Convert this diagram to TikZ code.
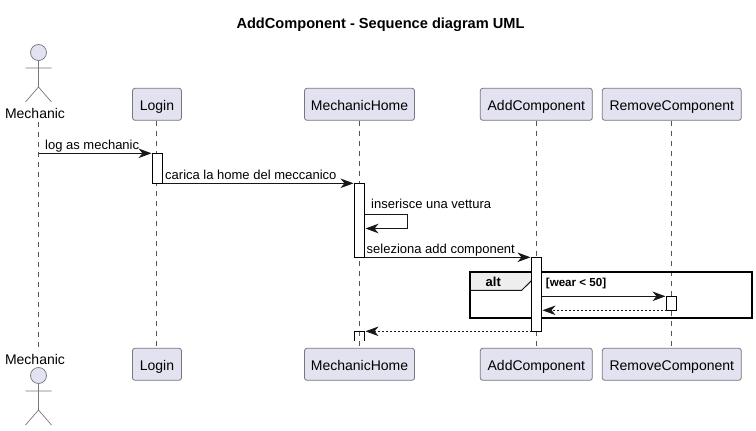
\documentclass[tikz,border=0pt]{standalone}
\usepackage{fontspec}
\setmainfont{Liberation Sans}
\usetikzlibrary{arrows.meta}
\definecolor{partfill}{HTML}{E2E2F0}
\definecolor{partline}{HTML}{77777F}
\definecolor{lifeline}{HTML}{555555}
\definecolor{ink}{HTML}{181818}
\definecolor{tabfill}{HTML}{EEEEEE}
\tikzset{
  x=1pt,y=-1pt,
  partbox/.style={draw=partline,fill=partfill,line width=0.8pt,rounded corners=2.5pt,minimum height=32pt,inner sep=0pt,outer sep=0pt,text height=13pt,text depth=0.2pt,font=\fontsize{14}{16}\selectfont,text=black},
  actorname/.style={anchor=base,inner sep=0pt,font=\fontsize{14}{16}\selectfont,text=black},
  lifeln/.style={draw=lifeline,line width=0.6pt,dash pattern=on 5pt off 5pt},
  actorln/.style={draw=partline,line width=0.7pt},
  activation/.style={draw=black,fill=white,line width=0.9pt,minimum width=10pt,inner sep=0pt,outer sep=0pt},
  msg/.style={draw=ink,line width=0.9pt,-{Stealth[length=13pt,width=9.5pt,inset=4pt]}},
  ret/.style={draw=ink,line width=0.7pt,dash pattern=on 2pt off 2pt,-{Stealth[length=13pt,width=9.5pt,inset=4pt]}},
  msglabel/.style={anchor=base west,inner sep=0pt,font=\fontsize{13}{15}\selectfont,text=black},
}
\begin{document}
\begin{tikzpicture}
\useasboundingbox (0,0) rectangle (756,431);
\fill[white] (0,0) rectangle (756,431);
\node[inner sep=0pt,font=\bfseries\fontsize{14.6}{17}\selectfont] (title) at (380.5,25) {AddComponent - Sequence diagram UML};
% participants
\node[partbox,minimum width=49pt] (loginT) at (157,104.3) {Login};
\node[partbox,minimum width=110pt] (homeT) at (359.5,104.3) {MechanicHome};
\node[partbox,minimum width=112pt] (addT) at (536.3,104.3) {AddComponent};
\node[partbox,minimum width=139pt] (remT) at (671.8,104.3) {RemoveComponent};
\node[partbox,minimum width=49pt] (loginB) at (157,364.3) {Login};
\node[partbox,minimum width=110pt] (homeB) at (359.5,364.3) {MechanicHome};
\node[partbox,minimum width=112pt] (addB) at (536.3,364.3) {AddComponent};
\node[partbox,minimum width=139pt] (remB) at (671.8,364.3) {RemoveComponent};
\node[actorname] (mechT) at (35,118) {Mechanic};
\node[actorname] (mechB) at (35,364) {Mechanic};
% actors
\draw[actorln,fill=partfill] (38.5,52.5) circle (8);
\draw[actorln] (38.5,60.5) -- (38.5,87) (25.5,68) -- (51.5,68) (25.5,102) -- (38.5,87) -- (51.5,102);
\draw[actorln,fill=partfill] (38.5,375.5) circle (8);
\draw[actorln] (38.5,383.5) -- (38.5,410) (25.5,391) -- (51.5,391) (25.5,425) -- (38.5,410) -- (51.5,425);
% lifeline anchors
\coordinate (mechLtop) at (38.5,122);
\coordinate (mechLbot) at (38.5,347);
\coordinate (loginLtop) at (156,121);
\coordinate (loginLbot) at (156,347);
\coordinate (homeLtop) at (359.5,121);
\coordinate (homeLbot) at (359.5,347);
\coordinate (addLtop) at (536.3,121);
\coordinate (addLbot) at (536.3,347);
\coordinate (remLtop) at (671.3,121);
\coordinate (remLbot) at (671.3,347);
\draw[lifeln] (mechLtop) -- (mechLbot);
\draw[lifeln] (loginLtop) -- (loginLbot);
\draw[lifeln] (homeLtop) -- (homeLbot);
\draw[lifeln] (addLtop) -- (addLbot);
\draw[lifeln] (remLtop) -- (remLbot);
% alt frame
\coordinate (frameA) at (470.3,272.3);
\coordinate (frameB) at (752,318.3);
\fill[tabfill] (470.3,272.3) -- (531.7,272.3) -- (531.7,280.4) -- (521.7,290.3) -- (470.3,290.3) -- cycle;
\draw[ink,line width=1pt] (531.7,280.4) -- (521.7,290.3) -- (470.3,290.3);
\draw[black,line width=1.8pt] (frameA) rectangle (frameB);
\node[anchor=base,inner sep=0pt,font=\bfseries\fontsize{13}{15}\selectfont] (altlabel) at (493.3,286.7) {alt};
\node[anchor=base west,inner sep=0pt,font=\bfseries\fontsize{11.6}{13}\selectfont] (guard) at (545.7,286.2) {[wear < 50]};
% activations
\node[activation,minimum height=30pt] (a1) at (157.5,168.3) {};
\node[activation,minimum height=74pt] (a2) at (359.5,220.3) {};
\node[activation,minimum height=74pt] (a3) at (536.5,294.3) {};
\node[activation,minimum height=14pt] (a4) at (671.5,303.3) {};
\coordinate (a5tl) at (354.5,341);
\coordinate (a5top) at (354.5,331.3);
\coordinate (a5tr) at (364.5,331.3);
\coordinate (a5br) at (364.5,341);
\draw[draw=black,line width=0.9pt] (a5tl) -- (a5top) -- (a5tr) -- (a5br);
% messages
\coordinate (m1a) at (38.5,153.3);
\coordinate (m1b) at (151.5,153.3);
\draw[msg] (m1a) -- (m1b);
\node[msglabel] (l1) at (45,149) {log as mechanic};
\coordinate (m2b) at (353.5,183.3);
\draw[msg] (a1.south east) -- (m2b);
\node[msglabel] (l2) at (165,179) {carica la home del meccanico};
\coordinate (m3a) at (364.5,214);
\coordinate (m3c) at (407,214);
\coordinate (m3d) at (407,228.5);
\coordinate (m3b) at (365.5,228.5);
\draw[msg] (m3a) -- (m3c) -- (m3d) -- (m3b);
\node[msglabel] (l3) at (371,208) {inserisce una vettura};
\coordinate (m4b) at (530.5,257.3);
\draw[msg] (a2.south east) -- (m4b);
\node[msglabel] (l4) at (366.5,253) {seleziona add component};
\coordinate (m5a) at (541.5,296.3);
\coordinate (m5b) at (665.5,296.3);
\draw[msg] (m5a) -- (m5b);
\coordinate (m6a) at (666.5,310.3);
\coordinate (m6b) at (542.5,310.3);
\draw[ret] (m6a) -- (m6b);
\coordinate (m7b) at (365.5,331.3);
\draw[ret] (a3.south west) -- (m7b);
\end{tikzpicture}
\end{document}
